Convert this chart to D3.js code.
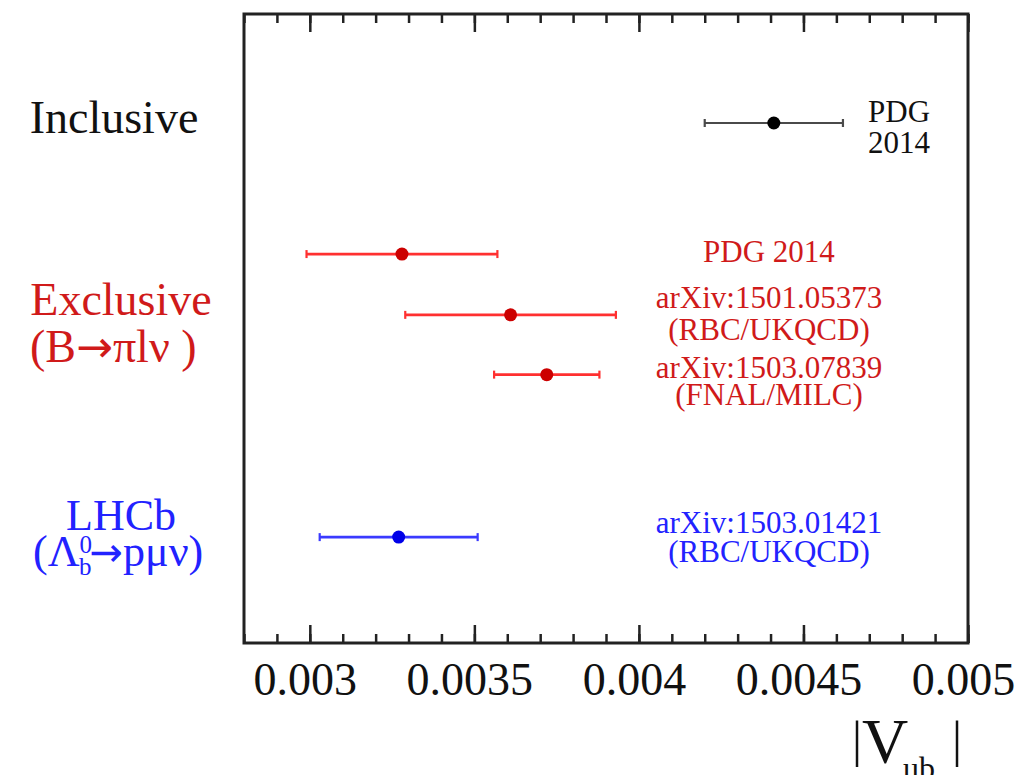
<!DOCTYPE html>
<html lang="en">
<head>
<meta charset="UTF-8">
<title>|Vub| comparison</title>
<style>
  body { margin: 0; background: #fff; }
  svg text { font-family: "Liberation Serif", "Times New Roman", serif; }
</style>
</head>
<body>
<script src="https://cdnjs.cloudflare.com/ajax/libs/d3/7.8.5/d3.min.js"></script>
<div id="chart"></div>
<script>
// values
const groups = ["Inclusive", "Exclusive", "Exclusive", "Exclusive", "LHCb"];
const centralValues = [0.00441, 0.00328, 0.00361, 0.00372, 0.00327];
const errLow = [0.00021, 0.00029, 0.00032, 0.00016, 0.00024];
const errHigh = [0.00021, 0.00029, 0.00032, 0.00016, 0.00024];
const rowY = [4.96, 3.71, 3.13, 2.56, 1.01];
const refLabels = [["PDG", "2014"], ["PDG 2014"], ["arXiv:1501.05373", "(RBC/UKQCD)"],
                   ["arXiv:1503.07839", "(FNAL/MILC)"], ["arXiv:1503.01421", "(RBC/UKQCD)"]];
const xTicks = [0.003, 0.0035, 0.004, 0.0045, 0.005];
const xTickLabels = ["0.003", "0.0035", "0.004", "0.0045", "0.005"];

const colors = {
  Inclusive: {line: "#4a4a4a", dot: "#000000", text: "#111111"},
  Exclusive: {line: "#ff3030", dot: "#cc0000", text: "#d01a1a"},
  LHCb: {line: "#3a3aff", dot: "#0000e8", text: "#2222ff"}
};

const W = 1026, H = 775;
const margin = {top: 14, right: 58, bottom: 132, left: 244};
const width = W - margin.left - margin.right;
const height = H - margin.top - margin.bottom;

const svg = d3.select("#chart").append("svg")
  .attr("width", W).attr("height", H);
const g = svg.append("g").attr("transform", `translate(${margin.left},${margin.top})`);

const x = d3.scaleLinear().domain([0.0028, 0.005]).range([0, width]);
const y = d3.scaleLinear().domain([0, 6]).range([height, 0]);

const minor = d3.range(28, 51).map(d => d / 10000);

// bottom axis: minor then major ticks, pointing inward
g.append("g").attr("transform", `translate(0,${height})`)
  .call(d3.axisBottom(x).tickValues(minor).tickSizeInner(-9).tickSizeOuter(0).tickFormat(""))
  .call(a => a.select(".domain").remove())
  .selectAll("line").attr("stroke", "#222").attr("stroke-width", 2.5);
const bx = g.append("g").attr("transform", `translate(0,${height})`)
  .call(d3.axisBottom(x).tickValues(xTicks).tickSizeInner(-18).tickSizeOuter(0)
    .tickPadding(19).tickFormat((d, i) => xTickLabels[i]));
bx.select(".domain").remove();
bx.selectAll("line").attr("stroke", "#222").attr("stroke-width", 2.5);
bx.selectAll("text").attr("font-size", 46).attr("fill", "#111")
  .attr("font-family", "Liberation Serif, serif").attr("transform", "translate(-5,0)");

// top axis
g.append("g")
  .call(d3.axisTop(x).tickValues(minor).tickSizeInner(-9).tickSizeOuter(0).tickFormat(""))
  .call(a => a.select(".domain").remove())
  .selectAll("line").attr("stroke", "#222").attr("stroke-width", 2.5);
g.append("g")
  .call(d3.axisTop(x).tickValues(xTicks).tickSizeInner(-18).tickSizeOuter(0).tickFormat(""))
  .call(a => a.select(".domain").remove())
  .selectAll("line").attr("stroke", "#222").attr("stroke-width", 2.5);

// frame
g.append("rect").attr("width", width).attr("height", height)
  .attr("fill", "none").attr("stroke", "#222").attr("stroke-width", 3);

// data
const data = centralValues.map((v, i) => ({
  group: groups[i], v, lo: v - errLow[i], hi: v + errHigh[i], row: rowY[i], labels: refLabels[i]
}));

const pts = g.selectAll(".pt").data(data).join("g").attr("class", "pt");
pts.append("line")
  .attr("x1", d => x(d.lo)).attr("x2", d => x(d.hi))
  .attr("y1", d => y(d.row)).attr("y2", d => y(d.row))
  .attr("stroke", d => colors[d.group].line).attr("stroke-width", d => d.group === "Inclusive" ? 2 : 2.8);
pts.each(function(d) {
  const s = d3.select(this);
  [d.lo, d.hi].forEach(e => s.append("line")
    .attr("x1", x(e)).attr("x2", x(e))
    .attr("y1", y(d.row) - 4).attr("y2", y(d.row) + 4)
    .attr("stroke", colors[d.group].line).attr("stroke-width", 2.2));
});
pts.append("circle")
  .attr("cx", d => x(d.v)).attr("cy", d => y(d.row)).attr("r", 6.5)
  .attr("fill", d => colors[d.group].dot);

// reference labels to the right of each point
const lineGap = [31, 0, 32, 27, 29];
const firstDy = [-1, 8, -7, 3, -4];
data.forEach((d, i) => {
  const left = d.group === "Inclusive";
  const t = g.append("text")
    .attr("x", left ? 624 : 525)
    .attr("y", y(d.row) + firstDy[i])
    .attr("font-size", 31)
    .attr("text-anchor", left ? "start" : "middle")
    .attr("fill", colors[d.group].text);
  d.labels.forEach((l, j) => t.append("tspan")
    .attr("x", left ? 624 : 525).attr("dy", j === 0 ? 0 : lineGap[i]).text(l));
});

// group labels on the left
const lab = svg.append("g").attr("font-size", 46).attr("text-anchor", "middle");
lab.append("text").attr("x", 114).attr("y", 133).attr("fill", colors.Inclusive.text).text("Inclusive");
lab.append("text").attr("x", 121).attr("y", 315).attr("fill", colors.Exclusive.text).text("Exclusive");
const bpi = lab.append("text").attr("x", 30).attr("y", 362).attr("text-anchor", "start")
  .attr("fill", colors.Exclusive.text);
bpi.append("tspan").text("(B");
bpi.append("tspan").attr("font-family", "DejaVu Sans").attr("font-size", 44).text("\u2192");
bpi.append("tspan").text("\u03C0l\u03BD )");
lab.append("text").attr("x", 121).attr("y", 530).attr("font-size", 44).attr("fill", colors.LHCb.text).text("LHCb");
const lam = lab.append("text").attr("x", 33).attr("y", 566).attr("font-size", 44)
  .attr("text-anchor", "start").attr("fill", colors.LHCb.text);
lam.append("tspan").text("(\u039B");
lam.append("tspan").attr("font-size", 25).attr("dy", -13).text("0");
lam.append("tspan").attr("font-size", 25).attr("dx", -13).attr("dy", 22).text("b");
lam.append("tspan").attr("dy", -9).attr("dx", -2).attr("font-family", "DejaVu Sans").attr("font-size", 40).text("\u2192");
lam.append("tspan").text("p\u03BC\u03BD)");

// axis title |V_ub|
const ttl = svg.append("g").attr("fill", "#111");
ttl.append("text").attr("x", 852).attr("y", 756).attr("font-size", 50).text("|");
ttl.append("text").attr("x", 862).attr("y", 763).attr("font-size", 64).text("V");
ttl.append("text").attr("x", 903).attr("y", 779).attr("font-size", 32).text("ub");
ttl.append("text").attr("x", 952).attr("y", 756).attr("font-size", 50).text("|");
</script>
</body>
</html>
